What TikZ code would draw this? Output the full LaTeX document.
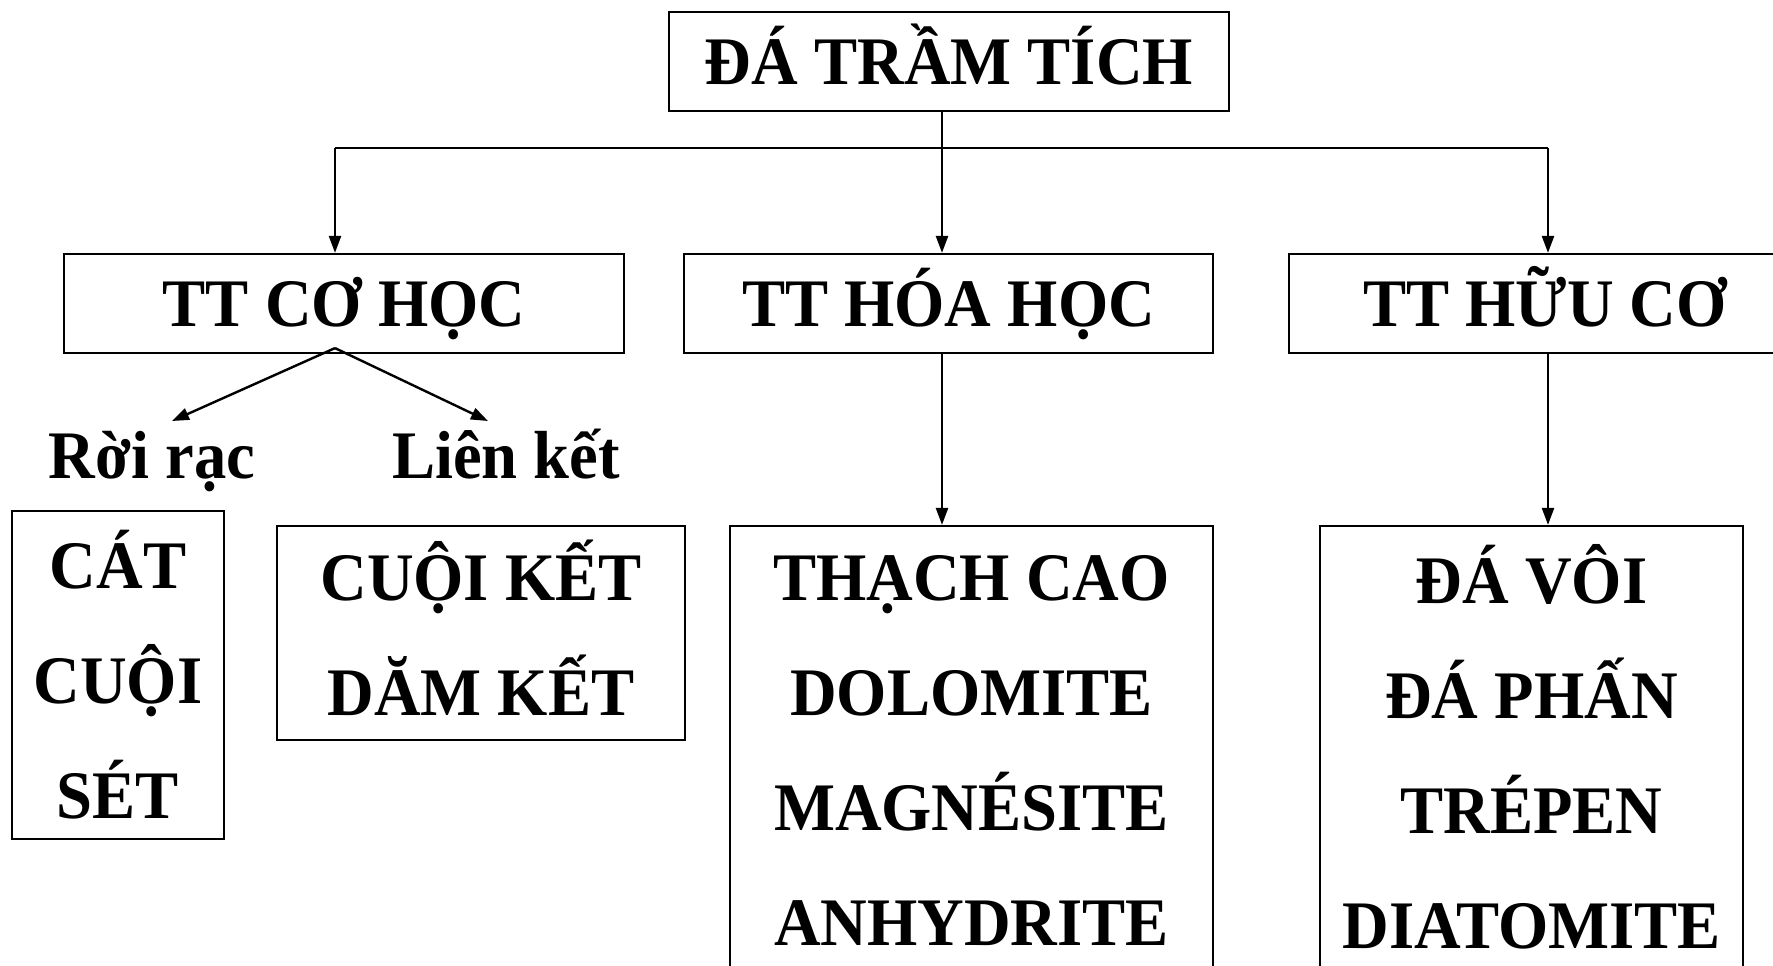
\documentclass[tikz,border=0pt]{standalone}
\usepackage{fontspec}
\setmainfont[FakeStretch=0.95]{Liberation Serif}
\usetikzlibrary{arrows.meta}

\tikzset{
  box/.style={draw, line width=2.2pt, inner sep=0pt, align=center},
  txt/.style={font=\fontsize{68}{115}\selectfont\bfseries, align=center},
  one/.style={text height=46pt, text depth=0pt},
  arr/.style={line width=2.4pt, -{Triangle[length=17pt,width=12pt]}}
}

\begin{document}
\begin{tikzpicture}[x=1pt,y=-1pt]
        \useasboundingbox (0,0) rectangle (1773,966);

        % Root
        \node[box, txt, one, minimum width=560pt, minimum height=99pt] (root) at (949,61.5) {ĐÁ TRẦM TÍCH};

        % Second level
        \node[box, txt, one, minimum width=560pt, minimum height=99pt] (co) at (344,303.5) {TT CƠ HỌC};
        \node[box, txt, one, minimum width=529pt, minimum height=99pt] (hoa) at (948.5,303.5) {TT HÓA HỌC};
        \node[box, txt, one, minimum width=512pt, minimum height=99pt] (huu) at (1545,303.5) {TT HỮU CƠ};

        \coordinate (bus) at (942,148);
        \coordinate (busl) at (335,148);
        \coordinate (busr) at (1548,148);
        \draw[line width=2.4pt] (bus |- root.south) -- (bus);
        \draw[line width=2.4pt] (busl) -- (busr);
        \draw[arr] (busl) -- (busl |- co.north);
        \draw[arr] (bus) -- (bus |- hoa.north);
        \draw[arr] (busr) -- (busr |- huu.north);

        % Co hoc branch
        \node[txt, anchor=base] (roi) at (152,478) {Rời rạc};
        \node[txt, anchor=base] (lien) at (506,478) {Liên kết};
        \coordinate (split) at ([yshift=6pt]busl |- co.south);
        \coordinate (roitip) at (172,421);
        \coordinate (lientip) at (488,421);
        \draw[arr] (split) -- (roitip);
        \draw[arr] (split) -- (lientip);

        \node[box, txt, minimum width=212pt, minimum height=328pt] (cat) at (118,675) {CÁT\\CUỘI\\SÉT};
        \node[box, txt, text depth=11pt, minimum width=408pt, minimum height=214pt] (cuoi) at (481,633) {CUỘI KẾT\\DĂM KẾT};

        % Hoa hoc / huu co lists
        \node[box, txt, minimum width=483pt, minimum height=450pt] (hoalist) at (971.5,751) {THẠCH CAO\\DOLOMITE\\MAGNÉSITE\\ANHYDRITE};
        \node[box, txt, text depth=10pt, minimum width=423pt, minimum height=450pt] (huulist) at (1531.5,751) {ĐÁ VÔI\\ĐÁ PHẤN\\TRÉPEN\\DIATOMITE};
        \draw[arr] (bus |- hoa.south) -- (bus |- hoalist.north);
        \draw[arr] (busr |- huu.south) -- (busr |- huulist.north);
\end{tikzpicture}
\end{document}
